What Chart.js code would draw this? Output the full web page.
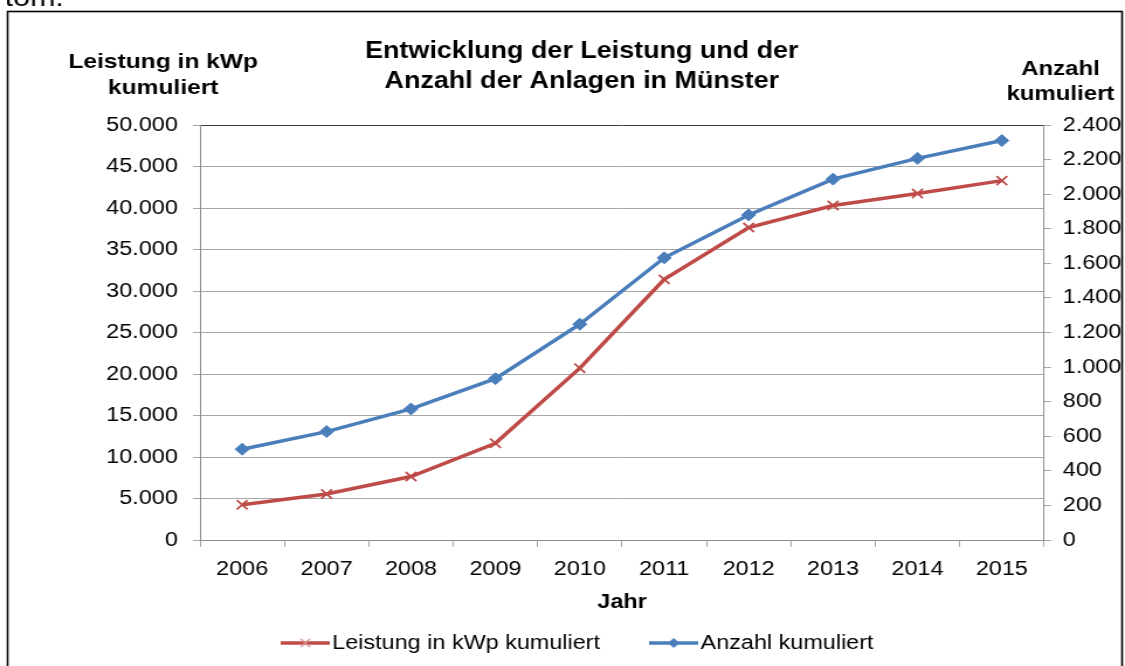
<!DOCTYPE html>
<html>
<head>
<meta charset="utf-8">
<script src="https://cdn.jsdelivr.net/npm/chart.js@4/dist/chart.umd.min.js"></script>
<style>
  html, body { margin: 0; padding: 0; background: #fff; overflow: hidden; }
  /* the original picture is stretched horizontally, so the chart is too */
  #wrap { width: 962px; height: 666px; transform: scaleX(1.16944); transform-origin: 0 0; }
</style>
</head>
<body>
<div id="wrap"><canvas id="chart" width="962" height="666"></canvas></div>
<script>
const jahre = ["2006", "2007", "2008", "2009", "2010", "2011", "2012", "2013", "2014", "2015"];
const leistungKwp = [4250, 5550, 7650, 11650, 20700, 31400, 37650, 40300, 41750, 43300];
const anzahlAnlagen = [525, 627, 758, 933, 1248, 1632, 1880, 2087, 2207, 2310];

const titelZeilen = ["Entwicklung der Leistung und der", "Anzahl der Anlagen in Münster"];
const achseLinks = ["Leistung in kWp", "kumuliert"];
const achseRechts = ["Anzahl", "kumuliert"];

const ROT = "#BE4B48";
const BLAU = "#4A7EBB";
const FONT = "'Liberation Sans', Arial, sans-serif";

Chart.defaults.font.family = FONT;
Chart.defaults.color = "#000";

// Zahlen mit Punkt als Tausendertrennzeichen
function formatDe(v) {
  return String(v).replace(/\B(?=(\d{3})+(?!\d))/g, ".");
}

// kleine Legenden-Symbole: Linie mit Marker in der Mitte
function legendIcon(farbe, marker) {
  const c = document.createElement("canvas");
  c.width = 42; c.height = 12;
  const g = c.getContext("2d");
  g.strokeStyle = farbe;
  g.lineWidth = 3.5;
  g.beginPath(); g.moveTo(0, 6); g.lineTo(42, 6); g.stroke();
  if (marker === "x") {
    g.strokeStyle = "#D98C8A";
    g.lineWidth = 1.3;
    g.beginPath();
    g.moveTo(17, 2); g.lineTo(25, 10);
    g.moveTo(25, 2); g.lineTo(17, 10);
    g.stroke();
  } else {
    g.fillStyle = farbe;
    g.beginPath();
    g.moveTo(21, 1); g.lineTo(26, 6); g.lineTo(21, 11); g.lineTo(16, 6);
    g.closePath(); g.fill();
  }
  return c;
}
const icons = [legendIcon(ROT, "x"), legendIcon(BLAU, "d")];

const rahmenPlugin = {
  id: "rahmen",
  afterDraw(chart) {
    const ctx = chart.ctx;
    const area = chart.chartArea;
    ctx.save();
    // abgeschnittener Text oberhalb des Rahmens
    ctx.fillStyle = "#000";
    ctx.font = "26px " + FONT;
    ctx.textBaseline = "alphabetic";
    ctx.textAlign = "left";
    ctx.fillText("tom.", 4, 6);
    // Rahmen
    ctx.strokeStyle = "#000";
    ctx.lineWidth = 1.6;
    ctx.strokeRect(6.5, 11.5, 953, 700);
    // Achsentitel oben links / rechts
    ctx.font = "bold 21px " + FONT;
    ctx.textAlign = "center";
    ctx.fillText(achseLinks[0], 139.6, 68);
    ctx.fillText(achseLinks[1], 139.6, 94);
    ctx.font = "bold 20.5px " + FONT;
    ctx.fillText(achseRechts[0], area.right + 14, 75);
    ctx.fillText(achseRechts[1], area.right + 14, 100);
    ctx.restore();
  }
};

const ctx = document.getElementById("chart").getContext("2d");

new Chart(ctx, {
  type: "line",
  data: {
    labels: jahre,
    datasets: [
      {
        label: "Leistung in kWp kumuliert",
        data: leistungKwp,
        yAxisID: "y",
        borderColor: ROT,
        backgroundColor: ROT,
        borderWidth: 3.5,
        pointStyle: "crossRot",
        pointRadius: 6.5,
        pointBorderWidth: 1.8,
        pointBorderColor: ROT,
        tension: 0
      },
      {
        label: "Anzahl kumuliert",
        data: anzahlAnlagen,
        yAxisID: "y1",
        borderColor: BLAU,
        backgroundColor: BLAU,
        borderWidth: 3.5,
        pointStyle: "rectRot",
        pointRadius: 6,
        pointBorderWidth: 1,
        pointBorderColor: BLAU,
        tension: 0
      }
    ]
  },
  options: {
    responsive: false,
    animation: false,
    layout: {
      padding: { top: 10, left: 36, right: 3, bottom: 3 }
    },
    plugins: {
      title: {
        display: true,
        text: titelZeilen,
        color: "#000",
        font: { size: 23, weight: "bold", lineHeight: "30px" },
        padding: { top: 26.5, bottom: 28.5 }
      },
      legend: {
        position: "bottom",
        labels: {
          color: "#000",
          font: { size: 20 },
          usePointStyle: true,
          pointStyleWidth: 26,
          padding: 50,
          generateLabels(chart) {
            const items = Chart.defaults.plugins.legend.labels.generateLabels(chart);
            return items.map((it, i) => ({ ...it, pointStyle: icons[i] }));
          }
        }
      },
      tooltip: { enabled: false }
    },
    scales: {
      x: {
        offset: true,
        grid: {
          offset: true,
          drawOnChartArea: false,
          tickLength: 7,
          color: "#a6a6a6"
        },
        border: { color: "#8e8e8e" },
        ticks: {
          color: "#000",
          font: { size: 20 },
          padding: 10,
          autoSkip: false,
          maxRotation: 0
        },
        title: {
          display: true,
          text: "Jahr",
          color: "#000",
          font: { size: 20, weight: "bold" },
          padding: { top: 0, bottom: -31 }
        },
        afterFit(scale) { scale.height = 43; }
      },
      y: {
        position: "left",
        min: 0,
        max: 50000,
        grid: {
          color: (c) => (c.tick && c.tick.value === 50000 ? "#404040" : "#a6a6a6"),
          tickColor: "#a6a6a6",
          tickLength: 6
        },
        border: { color: "#8e8e8e" },
        ticks: {
          stepSize: 5000,
          color: "#000",
          font: { size: 20 },
          padding: 13,
          callback: (v) => formatDe(v)
        },
        afterFit(scale) { scale.width = 135; }
      },
      y1: {
        position: "right",
        min: 0,
        max: 2400,
        grid: {
          drawOnChartArea: false,
          color: "#a6a6a6",
          tickLength: 6
        },
        border: { color: "#8e8e8e" },
        ticks: {
          stepSize: 200,
          color: "#000",
          font: { size: 20 },
          padding: 10,
          callback: (v) => formatDe(v)
        },
        afterFit(scale) { scale.width = 66.2; }
      }
    }
  },
  plugins: [rahmenPlugin]
});
</script>
</body>
</html>
